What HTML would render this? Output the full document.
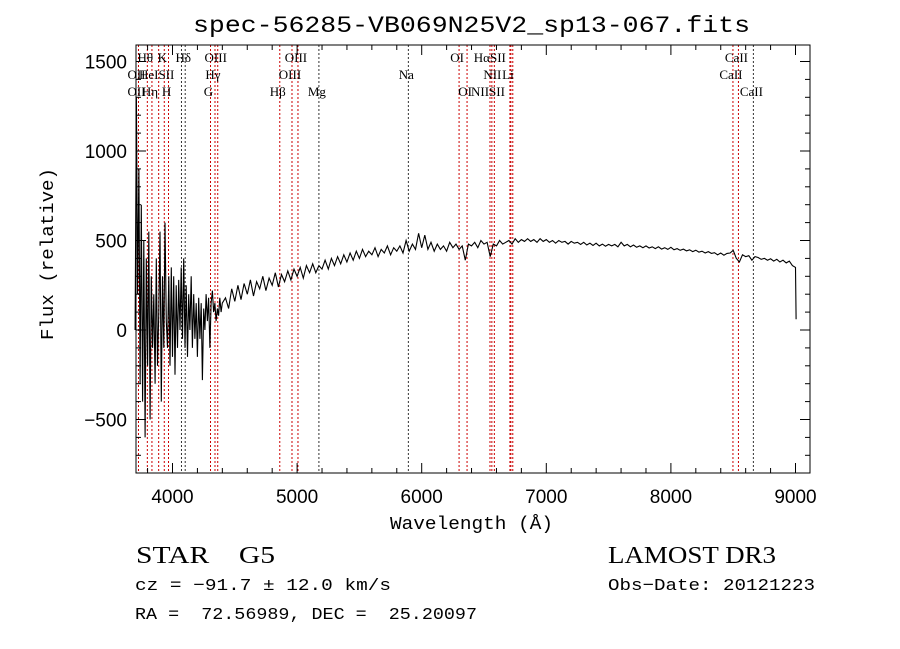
<!DOCTYPE html>
<html><head><meta charset="utf-8"><style>
body{margin:0;background:#fff;}
svg{display:block;}
text{font-family:"Liberation Sans",sans-serif;fill:#000;}
.ser{font-family:"Liberation Serif",serif;}
.mono{font-family:"Liberation Mono",monospace;}
</style></head><body>
<svg id="chart" width="900" height="649" viewBox="0 0 900 649" xmlns="http://www.w3.org/2000/svg">
<rect width="900" height="649" fill="#fff"/>
<text class="mono" x="193" y="32" font-size="23" textLength="557" lengthAdjust="spacingAndGlyphs">spec-56285-VB069N25V2_sp13-067.fits</text>
<g id="lines"></g>
<g id="ticks"></g>
<path id="spec" fill="none" stroke="#000" stroke-width="1.1"/>
<rect x="136" y="45" width="674" height="428" fill="none" stroke="#000" stroke-width="1"/>
<text class="mono" x="390" y="529" font-size="18" textLength="163" lengthAdjust="spacingAndGlyphs">Wavelength (Å)</text>
<text class="mono" transform="translate(53,340) rotate(-90)" font-size="18" textLength="172" lengthAdjust="spacingAndGlyphs">Flux (relative)</text>
<text class="ser" x="136" y="563" font-size="24" xml:space="preserve" textLength="139" lengthAdjust="spacingAndGlyphs">STAR    G5</text>
<text class="ser" x="608" y="563" font-size="24" textLength="168" lengthAdjust="spacingAndGlyphs">LAMOST DR3</text>
<text class="mono" x="135" y="590" font-size="17" textLength="256" lengthAdjust="spacingAndGlyphs">cz = −91.7 ± 12.0 km/s</text>
<text class="mono" x="608" y="590" font-size="17" textLength="207" lengthAdjust="spacingAndGlyphs">Obs−Date: 20121223</text>
<text class="mono" x="135" y="619" font-size="17" xml:space="preserve" textLength="342" lengthAdjust="spacingAndGlyphs">RA =  72.56989, DEC =  25.20097</text>
</svg>
<script>
const xTicks=[4000,5000,6000,7000,8000,9000];
const yTicks=[-500,0,500,1000,1500];
const lineWaves=[3727,3798,3835,3889,3934,3968,4072,4102,4305,4341,4363,4861,4959,5007,5175,5893,6300,6364,6548,6563,6583,6708,6716,6731,8498,8542,8662];
const lineBlack=[0,0,0,0,0,0,1,1,0,0,0,0,0,0,1,1,0,0,0,0,0,0,0,0,0,0,1];
const labelText=["Hθ","K","Hδ","OIII","OIII","OI","HαSII","CaII","OII","HeISII","Hγ","OIII","Na","NII","Li","CaII","OII","Hη","H","G","Hβ","Mg","OI","NIISII","CaII"];
const labelWave=[3798,3934,4102,4363,5007,6300,6563,8542,3727,3889,4341,4959,5893,6583,6708,8498,3727,3835,3968,4305,4861,5175,6364,6548,8662];
const labelRow=[0,0,0,0,0,0,0,0,1,1,1,1,1,1,1,1,2,2,2,2,2,2,2,2,2];
const waves=[3700,3710,3720,3730,3740,3750,3760,3770,3780,3790,3800,3810,3820,3830,3840,3850,3860,3870,3880,3890,3900,3910,3920,3930,3940,3950,3960,3970,3980,3990,4000,4010,4020,4030,4040,4050,4060,4070,4080,4090,4100,4110,4120,4130,4140,4150,4160,4170,4180,4190,4200,4210,4220,4230,4240,4250,4260,4270,4280,4290,4300,4310,4320,4330,4340,4350,4360,4370,4380,4390,4400,
4425,4450,4475,4500,4525,4550,4575,4600,4625,4650,4675,4700,4725,4750,4775,4800,4825,4850,4875,4900,4925,4950,4975,5000,5025,5050,5075,5100,5125,5150,5175,5200,5225,5250,5275,5300,5325,5350,5375,5400,5425,5450,5475,5500,5525,5550,5575,5600,5625,5650,5675,5700,5725,5750,5775,5800,5825,5850,5875,5900,5925,5950,5975,6000,6025,6050,6075,6100,6125,6150,6175,6200,6225,6250,6275,6300,6325,6350,6375,6400,6425,6450,6475,6500,6525,6550,6575,6600,6625,6650,6675,6700,6725,6750,6775,6800,6825,6850,6875,6900,6925,6950,6975,7000,7025,7050,7075,7100,7125,7150,7175,7200,7225,7250,7275,7300,7325,7350,7375,7400,7425,7450,7475,7500,7525,7550,7575,7600,7625,7650,7675,7700,7725,7750,7775,7800,7825,7850,7875,7900,7925,7950,7975,8000,8025,8050,8075,8100,8125,8150,8175,8200,8225,8250,8275,8300,8325,8350,8375,8400,8425,8450,8475,8500,8525,8550,8575,8600,8625,8650,8675,8700,8725,8750,8775,8800,8825,8850,8875,8900,8925,8950,8975,9000,9005];
const flux=[0,1300,200,900,-300,700,-400,500,-600,400,-200,550,-500,300,-100,200,-300,400,-200,100,550,-400,300,-100,600,50,-100,300,-200,350,-150,300,-250,250,-100,280,0,350,-50,400,-100,250,-150,200,0,300,-100,200,-50,150,-150,180,-50,150,-280,120,0,200,50,180,-100,150,220,100,150,50,120,80,180,100,150,
180,120,230,160,250,170,260,200,280,190,270,230,300,220,290,250,320,240,310,270,330,280,340,300,350,290,360,320,370,320,360,340,390,340,400,360,410,370,420,380,430,390,440,400,450,410,440,420,460,410,450,430,470,420,460,440,470,430,500,440,480,450,540,460,530,450,490,440,480,450,470,440,490,460,480,450,470,390,480,470,490,460,500,480,490,410,480,470,500,480,490,500,480,510,490,505,495,510,495,505,490,510,495,505,490,500,485,500,490,495,480,495,485,490,478,490,475,485,472,485,470,480,468,478,470,478,465,490,470,478,465,475,462,470,460,470,458,465,455,465,452,460,450,462,448,455,445,452,442,448,438,446,435,440,430,438,428,432,420,430,418,428,430,445,400,380,420,410,415,390,410,405,395,400,390,398,385,395,380,390,375,385,360,350,60];
const X=w=>172.5+(w-4000)*0.1246;
const Y=f=>330-f*0.179;
const NS="http://www.w3.org/2000/svg";
const lg=document.getElementById('lines');
lineWaves.forEach((w,i)=>{
  const l=document.createElementNS(NS,'line');
  
  
  l.setAttribute('x1',X(w));l.setAttribute('x2',X(w));
  l.setAttribute('y1',45);l.setAttribute('y2',473);
  l.setAttribute('stroke',lineBlack[i]?'#333':'#c00');
  l.setAttribute('stroke-width','1');
  l.setAttribute('stroke-dasharray','2,2');
  lg.appendChild(l);
});
labelText.forEach((t,i)=>{
  const e=document.createElementNS(NS,'text');
  
  
  e.setAttribute('class','ser');
  e.setAttribute('x',X(labelWave[i])-2);
  e.setAttribute('y',62+labelRow[i]*17);
  e.setAttribute('font-size','13');
  e.setAttribute('text-anchor','middle');
  e.textContent=t;
  lg.appendChild(e);
});
const tg=document.getElementById('ticks');
function ln(x1,y1,x2,y2){const l=document.createElementNS(NS,'line');
  
  
  l.setAttribute('x1',x1);l.setAttribute('y1',y1);l.setAttribute('x2',x2);l.setAttribute('y2',y2);l.setAttribute('stroke','#000');tg.appendChild(l);}
for(let w=3800;w<=9100;w+=200){const maj=w%1000===0;ln(X(w),473,X(w),473-(maj?10:5));ln(X(w),45,X(w),45+(maj?10:5));}
for(let f=-700;f<=1500;f+=100){const maj=f%500===0;ln(136,Y(f),136+(maj?10:5),Y(f));ln(810,Y(f),810-(maj?10:5),Y(f));}
xTicks.forEach(w=>{const e=document.createElementNS(NS,'text');
  
  
  e.setAttribute('x',X(w));e.setAttribute('y',503);e.setAttribute('font-size','19');e.setAttribute('text-anchor','middle');e.textContent=w;tg.appendChild(e);});
yTicks.forEach(f=>{const e=document.createElementNS(NS,'text');
  
  
  e.setAttribute('x',127);e.setAttribute('y',Y(f)+7);e.setAttribute('font-size','19');e.setAttribute('text-anchor','end');e.textContent=f<0?'−'+(-f):f;tg.appendChild(e);});
document.getElementById('spec').setAttribute('d',waves.map((w,i)=>(i?'L':'M')+X(w).toFixed(1)+','+Y(flux[i]).toFixed(1)).join(''));
</script>
</body></html>
